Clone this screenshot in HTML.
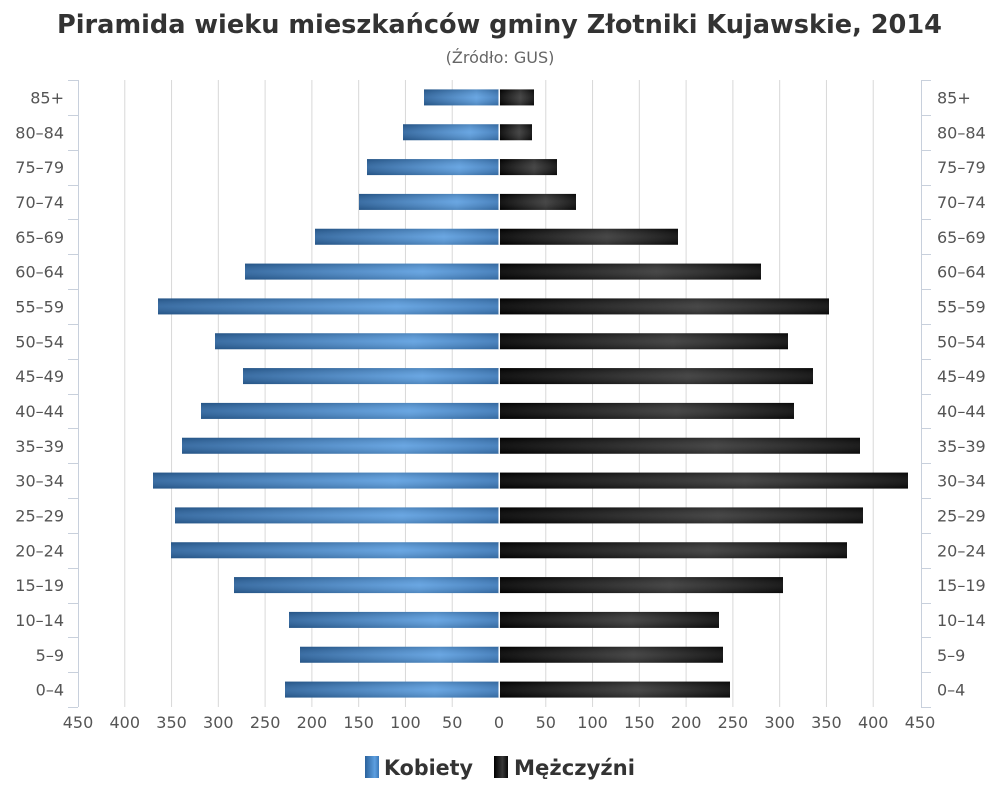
<!DOCTYPE html>
<html><head><meta charset="utf-8"><style>
body{margin:0;background:#fff;}
svg{display:block;font-family:"DejaVu Sans","Liberation Sans",sans-serif;}
</style></head><body>
<svg width="1000" height="800" xmlns="http://www.w3.org/2000/svg">
<defs>
<linearGradient id="gb" x1="0" y1="0" x2="1" y2="0">
<stop offset="0" stop-color="#2b629c"/><stop offset="0.7" stop-color="#5d9fe0"/><stop offset="1" stop-color="#3b78b8"/></linearGradient>
<linearGradient id="gk" x1="0" y1="0" x2="1" y2="0">
<stop offset="0" stop-color="#000"/><stop offset="0.6" stop-color="#383838"/><stop offset="1" stop-color="#0a0a0a"/></linearGradient>
<linearGradient id="gv" x1="0" y1="0" x2="0" y2="1">
<stop offset="0" stop-color="#000" stop-opacity="0.15"/><stop offset="0.5" stop-color="#fff" stop-opacity="0.08"/><stop offset="1" stop-color="#000" stop-opacity="0.15"/></linearGradient>
</defs>
<text x="57" y="33" font-size="26" font-weight="bold" fill="#333" textLength="885" lengthAdjust="spacingAndGlyphs">Piramida wieku mieszkańców gminy Złotniki Kujawskie, 2014</text>
<text x="500" y="63" text-anchor="middle" font-size="16" fill="#666">(Źródło: GUS)</text>
<g id="grid" stroke="#d8d8d8" stroke-width="1"></g>
<g id="bars"></g>
<g id="axes" stroke="#c8d0dc" stroke-width="1" fill="none"></g>
<g id="labels" font-size="16" fill="#555"></g>
<rect x="365" y="756" width="14" height="22" fill="url(#gb)"/>
<text x="384" y="775" font-size="21" font-weight="bold" fill="#333" textLength="89" lengthAdjust="spacingAndGlyphs">Kobiety</text>
<rect x="494" y="756" width="14" height="22" fill="url(#gk)"/>
<text x="514" y="775" font-size="21" font-weight="bold" fill="#333" textLength="121" lengthAdjust="spacingAndGlyphs">Mężczyźni</text>
<script>
(function(){
var ns="http://www.w3.org/2000/svg";
function el(p,t,a,txt){var e=document.createElementNS(ns,t);for(var k in a)e.setAttribute(k,a[k]);if(txt!==undefined)e.textContent=txt;document.getElementById(p).appendChild(e);return e;}
var zero=499,sc=421/450,T=80,B=707,ch=(B-T)/18;
for(var v=-450;v<=450;v+=50){var x=zero+v*sc;
 if(v!=-450&&v!=450&&v!=0) el("grid","line",{x1:x,x2:x,y1:T,y2:B});
 el("labels","text",{x:x,y:728,"text-anchor":"middle"},String(Math.abs(v)));}
var cats=["85+","80-84","75-79","70-74","65-69","60-64","55-59","50-54","45-49","40-44","35-39","30-34","25-29","20-24","15-19","10-14","5-9","0-4"];
var L=[424,403,367,359,315,245,158,215,243,201,182,153,175,171,234,289,300,285];
var R=[534,532,557,576,678,761,829,788,813,794,860,908,863,847,783,719,723,730];
for(var i=0;i<18;i++){var cy=T+ch*(i+0.5);
 el("bars","rect",{x:L[i],y:cy-8,width:zero-L[i],height:16,fill:"url(#gb)"});
 el("bars","rect",{x:zero+1,y:cy-8,width:R[i]-zero-1,height:16,fill:"url(#gk)"});
 el("bars","rect",{x:L[i],y:cy-8,width:R[i]-L[i],height:16,fill:"url(#gv)"});
 el("bars","line",{x1:zero,x2:zero,y1:cy-8,y2:cy+8,stroke:"#fff","stroke-width":1});
 var lab=cats[i].replace("-","\u2013");
 el("labels","text",{x:64,y:cy+6,"text-anchor":"end"},lab);
 el("labels","text",{x:937,y:cy+6},lab);}
el("axes","line",{x1:78.5,x2:78.5,y1:T,y2:B});
el("axes","line",{x1:921.5,x2:921.5,y1:T,y2:B});
for(var j=0;j<=18;j++){var y=Math.round(T+ch*j)+0.5;
 el("axes","line",{x1:68,x2:78,y1:y,y2:y});
 el("axes","line",{x1:921,x2:931,y1:y,y2:y});}
})();
</script>
</svg>
</body></html>
